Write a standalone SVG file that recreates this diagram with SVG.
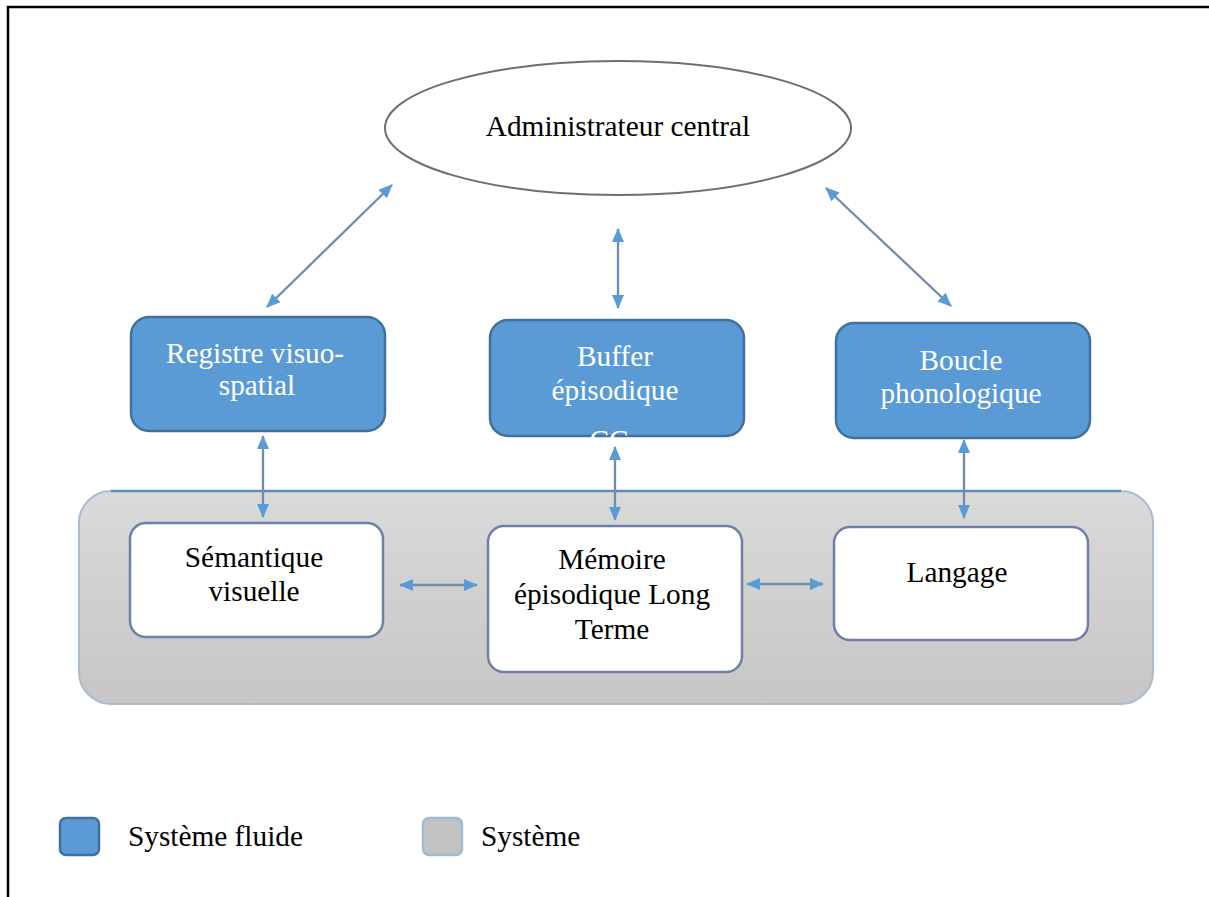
<svg xmlns="http://www.w3.org/2000/svg" width="1209" height="897" viewBox="0 0 1209 897">
  <defs>
    <linearGradient id="sysFill" x1="0" y1="0" x2="0" y2="1">
      <stop offset="0" stop-color="#dadada"/>
      <stop offset="1" stop-color="#c6c6c6"/>
    </linearGradient>
    <marker id="head" viewBox="0 0 14 12" refX="13" refY="6" markerWidth="14" markerHeight="12" markerUnits="userSpaceOnUse" orient="auto-start-reverse">
      <path d="M0,0 L14,6 L0,12 Z" fill="#5b9bd5"/>
    </marker>
  </defs>
  <style>
    text { font-family: "Liberation Serif", "Times New Roman", serif; font-size: 29.3px; text-anchor: middle; }
    .fluid { fill: #5b9bd5; stroke: #41719c; stroke-width: 2.5; }
    .inner { fill: #ffffff; stroke: #6f80a8; stroke-width: 2.5; }
    .light { fill: #ffffff; }
    .dark { fill: #000000; }
    .link { stroke: #6f8db0; stroke-width: 2.3; fill: none; marker-start: url(#head); marker-end: url(#head); }
  </style>

  <rect width="1209" height="897" fill="#ffffff"/>

  <!-- page frame: top and left rules only -->
  <path d="M8,897 V7 H1209" fill="none" stroke="#000000" stroke-width="2.5"/>

  <!-- long-term system container -->
  <g id="system">
    <rect x="79" y="491" width="1074" height="213" rx="32" fill="url(#sysFill)" stroke="#a9bccf" stroke-width="2"/>
    <path d="M111,491 H1121" stroke="#5f8db9" stroke-width="2.5" fill="none"/>
  </g>

  <g id="admin">
    <ellipse cx="618" cy="128" rx="233" ry="67" fill="#ffffff" stroke="#6e6e6e" stroke-width="2"/>
    <text x="618" y="136" class="dark">Administrateur central</text>
  </g>

  <g id="registre">
    <rect x="131" y="317" width="254" height="114" rx="18" class="fluid"/>
    <text x="255" y="363" class="light">Registre visuo-</text>
    <text x="257" y="395" class="light">spatial</text>
  </g>

  <g id="buffer">
    <rect x="490" y="320" width="254" height="116" rx="18" class="fluid"/>
    <text x="615" y="366" class="light">Buffer</text>
    <text x="615" y="400" class="light">épisodique</text>
    <text x="609" y="450" class="light">CC</text>
  </g>

  <g id="boucle">
    <rect x="836" y="323" width="254" height="115" rx="18" class="fluid"/>
    <text x="961" y="370" class="light">Boucle</text>
    <text x="961" y="403" class="light">phonologique</text>
  </g>

  <g id="semantique">
    <rect x="130" y="523" width="253" height="114" rx="16" class="inner"/>
    <text x="254" y="567" class="dark">Sémantique</text>
    <text x="254" y="601" class="dark">visuelle</text>
  </g>

  <g id="memoire">
    <rect x="488" y="526" width="254" height="146" rx="16" class="inner"/>
    <text x="612" y="569" class="dark">Mémoire</text>
    <text x="612" y="604" class="dark">épisodique Long</text>
    <text x="612" y="639" class="dark">Terme</text>
  </g>

  <g id="langage">
    <rect x="834" y="527" width="254" height="113" rx="16" class="inner"/>
    <text x="957" y="582" class="dark">Langage</text>
  </g>

  <!-- two-way links -->
  <g id="connectors">
    <line x1="392" y1="185" x2="267" y2="307" class="link"/>
    <line x1="618" y1="229" x2="618" y2="308" class="link"/>
    <line x1="826" y1="188" x2="951" y2="306" class="link"/>
    <line x1="263" y1="436" x2="263" y2="517" class="link"/>
    <line x1="615" y1="447" x2="615" y2="520" class="link"/>
    <line x1="964" y1="440" x2="964" y2="518" class="link"/>
    <line x1="400" y1="585" x2="477" y2="585" class="link"/>
    <line x1="747" y1="584" x2="823" y2="584" class="link"/>
  </g>

  <!-- key -->
  <g id="legend">
    <rect x="60" y="818" width="39" height="37" rx="6" class="fluid"/>
    <text x="128" y="846" class="dark" style="text-anchor:start">Système fluide</text>
    <rect x="423" y="818" width="39" height="37" rx="6" fill="#c2c2c2" stroke="#9fbad3" stroke-width="2.5"/>
    <text x="481" y="846" class="dark" style="text-anchor:start">Système</text>
  </g>
</svg>
